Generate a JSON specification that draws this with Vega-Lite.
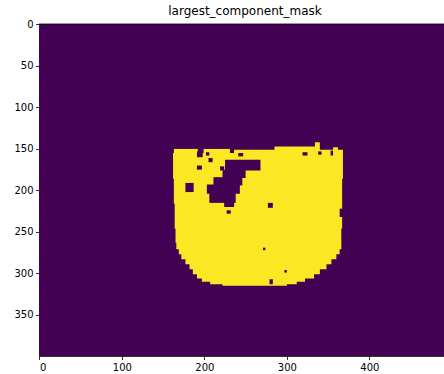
{
  "$schema": "https://vega.github.io/schema/vega-lite/v6.json",
  "autosize": {"type": "none"},
  "padding": {"left": 39, "top": 24, "right": 0, "bottom": 18},
  "width": 405,
  "height": 332,
  "title": {"text": "largest_component_mask", "anchor": "middle", "dx": 3.5, "offset": 1, "fontSize": 12, "fontWeight": "normal", "font": "DejaVu Sans", "color": "#000000"},
  "config": {"view": {"stroke": null}, "axis": {"labelFont": "DejaVu Sans", "labelFontSize": 10, "labelColor": "#000000", "tickColor": "#000000", "domainColor": "#000000", "tickSize": 3.5, "tickWidth": 0.8, "domainWidth": 0.8, "labelPadding": 2.5, "grid": false, "title": null}},
  "data": {"values": [
    {"kind": "bg", "x0": -0.5, "x1": 499.5, "y0": -0.5, "y1": 399.5, "v": 0},
    {"kind": "blob", "y0": 142, "y1": 154, "x0": 334, "x1": 340, "v": 1},
    {"kind": "blob", "y0": 147, "y1": 154, "x0": 285, "x1": 334, "v": 1},
    {"kind": "blob", "y0": 148, "y1": 154, "x0": 356, "x1": 362, "v": 1},
    {"kind": "blob", "y0": 150, "y1": 156, "x0": 163, "x1": 192, "v": 1},
    {"kind": "blob", "y0": 150, "y1": 156, "x0": 199, "x1": 231, "v": 1},
    {"kind": "blob", "y0": 151, "y1": 156, "x0": 236, "x1": 368, "v": 1},
    {"kind": "blob", "y0": 155, "y1": 186, "x0": 162, "x1": 368, "v": 1},
    {"kind": "blob", "y0": 185, "y1": 216, "x0": 163, "x1": 367, "v": 1},
    {"kind": "blob", "y0": 215, "y1": 246, "x0": 164, "x1": 367, "v": 1},
    {"kind": "blob", "y0": 245, "y1": 263, "x0": 165, "x1": 366, "v": 1},
    {"kind": "blob", "y0": 262, "y1": 271, "x0": 166, "x1": 366, "v": 1},
    {"kind": "blob", "y0": 270, "y1": 277, "x0": 169, "x1": 364, "v": 1},
    {"kind": "blob", "y0": 276, "y1": 283, "x0": 172, "x1": 360, "v": 1},
    {"kind": "blob", "y0": 282, "y1": 289, "x0": 177, "x1": 354, "v": 1},
    {"kind": "blob", "y0": 288, "y1": 295, "x0": 182, "x1": 348, "v": 1},
    {"kind": "blob", "y0": 294, "y1": 301, "x0": 186, "x1": 340, "v": 1},
    {"kind": "blob", "y0": 300, "y1": 306, "x0": 191, "x1": 333, "v": 1},
    {"kind": "blob", "y0": 305, "y1": 310, "x0": 197, "x1": 322, "v": 1},
    {"kind": "blob", "y0": 309, "y1": 313, "x0": 207, "x1": 312, "v": 1},
    {"kind": "blob", "y0": 312, "y1": 315, "x0": 222, "x1": 300, "v": 1},
    {"kind": "hole", "y0": 153, "y1": 160, "x0": 191, "x1": 198, "v": 0},
    {"kind": "hole", "y0": 154, "y1": 158, "x0": 202, "x1": 206, "v": 0},
    {"kind": "hole", "y0": 161, "y1": 166, "x0": 205, "x1": 210, "v": 0},
    {"kind": "hole", "y0": 170, "y1": 175, "x0": 191, "x1": 197, "v": 0},
    {"kind": "hole", "y0": 171, "y1": 176, "x0": 219, "x1": 224, "v": 0},
    {"kind": "hole", "y0": 155, "y1": 159, "x0": 241, "x1": 247, "v": 0},
    {"kind": "hole", "y0": 154, "y1": 158, "x0": 319, "x1": 325, "v": 0},
    {"kind": "hole", "y0": 153, "y1": 157, "x0": 338, "x1": 342, "v": 0},
    {"kind": "hole", "y0": 152, "y1": 158, "x0": 353, "x1": 356, "v": 0},
    {"kind": "hole", "y0": 163, "y1": 176, "x0": 225, "x1": 268, "v": 0},
    {"kind": "hole", "y0": 175, "y1": 185, "x0": 222, "x1": 250, "v": 0},
    {"kind": "hole", "y0": 184, "y1": 194, "x0": 211, "x1": 246, "v": 0},
    {"kind": "hole", "y0": 193, "y1": 204, "x0": 203, "x1": 243, "v": 0},
    {"kind": "hole", "y0": 203, "y1": 215, "x0": 206, "x1": 238, "v": 0},
    {"kind": "hole", "y0": 214, "y1": 220, "x0": 224, "x1": 236, "v": 0},
    {"kind": "hole", "y0": 191, "y1": 202, "x0": 177, "x1": 187, "v": 0},
    {"kind": "hole", "y0": 215, "y1": 221, "x0": 277, "x1": 283, "v": 0},
    {"kind": "hole", "y0": 224, "y1": 228, "x0": 227, "x1": 232, "v": 0},
    {"kind": "hole", "y0": 222, "y1": 232, "x0": 364, "x1": 368, "v": 0},
    {"kind": "hole", "y0": 269, "y1": 272, "x0": 271, "x1": 274, "v": 0},
    {"kind": "hole", "y0": 296, "y1": 299, "x0": 297, "x1": 300, "v": 0},
    {"kind": "hole", "y0": 307, "y1": 313, "x0": 279, "x1": 283, "v": 0}
  ]},
  "encoding": {
    "x": {"field": "x0", "type": "quantitative", "scale": {"domain": [-0.5, 490.5], "nice": false, "zero": false}, "axis": {"values": [0, 100, 200, 300, 400], "format": "d"}},
    "x2": {"field": "x1"},
    "y": {"field": "y0", "type": "quantitative", "scale": {"domain": [-0.5, 399.5], "nice": false, "zero": false, "reverse": true}, "axis": {"values": [0, 50, 100, 150, 200, 250, 300, 350], "format": "d"}},
    "y2": {"field": "y1"},
    "color": {"field": "v", "type": "quantitative", "scale": {"domain": [0, 1], "range": ["#440154", "#fde725"]}, "legend": null}
  },
  "layer": [
    {"transform": [{"filter": "datum.kind === 'bg'"}], "mark": {"type": "rect", "clip": true}},
    {"transform": [{"filter": "datum.kind === 'blob'"}], "mark": {"type": "rect", "clip": true}},
    {"transform": [{"filter": "datum.kind === 'hole'"}], "mark": {"type": "rect", "clip": true}},
    {"data": {"values": [{"top": -0.5}]}, "mark": {"type": "rule", "color": "#000000", "strokeWidth": 0.8}, "encoding": {"y": {"field": "top", "type": "quantitative"}, "x": null, "x2": null, "y2": null, "color": null}}
  ]
}
